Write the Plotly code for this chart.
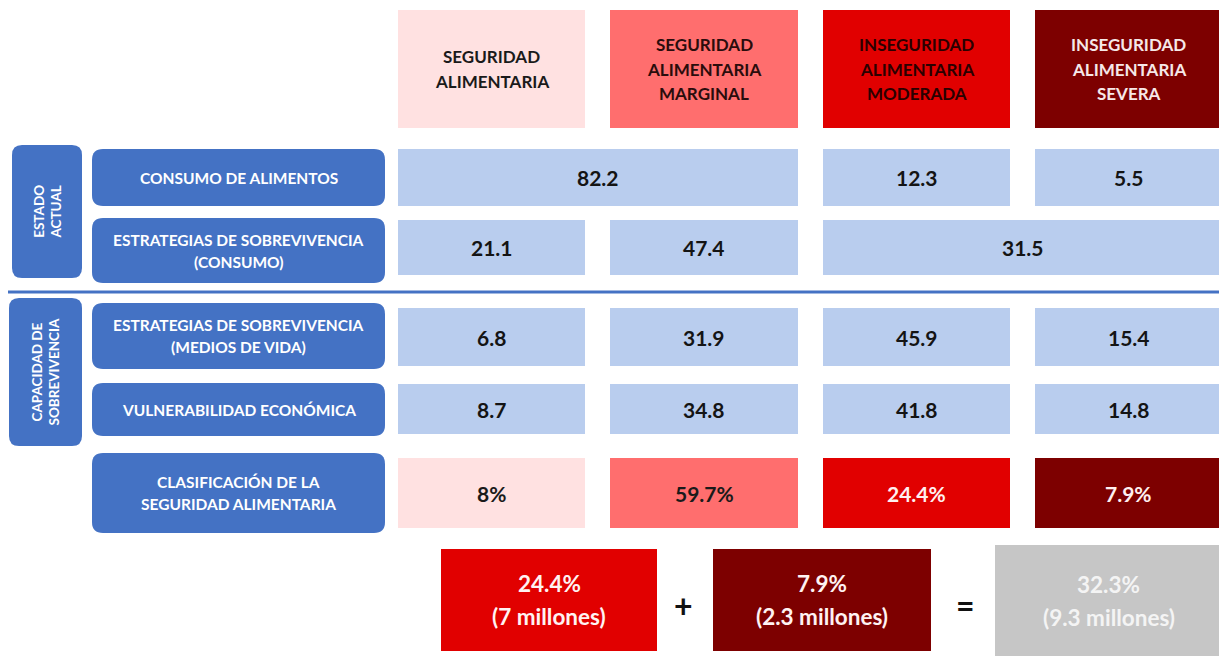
import plotly.graph_objects as go

# ---------------- data ----------------
categories = ["SEGURIDAD<br>ALIMENTARIA",
              "SEGURIDAD<br>ALIMENTARIA<br>MARGINAL",
              "INSEGURIDAD<br>ALIMENTARIA<br>MODERADA",
              "INSEGURIDAD<br>ALIMENTARIA<br>SEVERA"]
indicators = ["CONSUMO DE ALIMENTOS",
              "ESTRATEGIAS DE SOBREVIVENCIA<br>(CONSUMO)",
              "ESTRATEGIAS DE SOBREVIVENCIA<br>(MEDIOS DE VIDA)",
              "VULNERABILIDAD ECONÓMICA",
              "CLASIFICACIÓN DE LA<br>SEGURIDAD ALIMENTARIA"]
groups = ["ESTADO<br>ACTUAL", "CAPACIDAD DE<br>SOBREVIVENCIA"]

consumo_alimentos = [82.2, 12.3, 5.5]
consumo_spans = [2, 1, 1]
estrategias_consumo = [21.1, 47.4, 31.5]
estrategias_consumo_spans = [1, 1, 2]
estrategias_medios = [6.8, 31.9, 45.9, 15.4]
vulnerabilidad = [8.7, 34.8, 41.8, 14.8]
clasificacion = [8, 59.7, 24.4, 7.9]

resumen_pct = [24.4, 7.9, 32.3]
resumen_millones = ["7", "2.3", "9.3"]
resumen_ops = ["+", "="]

# ---------------- layout / style ----------------
W, H = 1219, 659
FONT = "Lato"
col_x0 = [398, 610, 823, 1035]
col_x1 = [585, 798, 1010, 1222]
header_y = (10, 128)
row_cells = [(149, 206), (220, 275), (308, 366), (384, 434), (458, 528)]
row_labels = [(149, 206), (218, 283), (303, 369), (383, 436), (453, 533)]
label_x = (92, 385)
group_boxes = [((12, 82), (145, 278)), ((9, 82), (298, 446))]
sep_y = 292
cat_fill = ["#FFE1E1", "#FF6E6E", "#E10000", "#7D0000"]
cat_text = ["#1a1a1a", "#2a0c0c", "#2a0000", "#F6E8E8"]
clas_text = ["#1a1a1a", "#1a1a1a", "#FFF0F0", "#FFF0F0"]
BLUE = "#4472C4"
LIGHT = "#B9CDEE"
GRAY = "#C6C6C6"
bottom_boxes = [(441, 657, 549, 651), (713, 931, 549, 651), (995, 1222, 545, 656)]
bottom_fill = [cat_fill[2], cat_fill[3], GRAY]
bottom_text = ["#FFF2F2", "#FFF2F2", "#F4F4F4"]
op_x = [683, 965]

fig = go.Figure()
shapes = []
annotations = []


def rrect(x0, y0, x1, y1, r):
    return (f"M {x0+r},{y0} L {x1-r},{y0} Q {x1},{y0} {x1},{y0+r} "
            f"L {x1},{y1-r} Q {x1},{y1} {x1-r},{y1} L {x0+r},{y1} "
            f"Q {x0},{y1} {x0},{y1-r} L {x0},{y0+r} Q {x0},{y0} {x0+r},{y0} Z")


def rect(x0, y0, x1, y1, color):
    shapes.append(dict(type="rect", xref="x", yref="y", x0=x0, x1=x1, y0=y0, y1=y1,
                       fillcolor=color, line=dict(width=0), layer="below"))


def text(x, y, s, size, color, spacing=None, angle=0):
    lines = s.split("<br>")
    if spacing is None or len(lines) == 1 or angle != 0:
        annotations.append(dict(x=x, y=y, xref="x", yref="y", text=s, showarrow=False,
                                textangle=angle, xanchor="center", yanchor="middle",
                                font=dict(family=FONT, size=size, color=color, weight=700)))
        return
    n = len(lines)
    for i, ln in enumerate(lines):
        yy = y + (i - (n - 1) / 2) * spacing
        annotations.append(dict(x=x, y=yy, xref="x", yref="y", text=ln, showarrow=False,
                                xanchor="center", yanchor="middle",
                                font=dict(family=FONT, size=size, color=color, weight=700)))


# header
for i, c in enumerate(categories):
    rect(col_x0[i], header_y[0], col_x1[i], header_y[1], cat_fill[i])
    text((col_x0[i] + col_x1[i]) / 2, (header_y[0] + header_y[1]) / 2, c, 17, cat_text[i], spacing=24.5)

# group boxes
for (gx, gy), g in zip(group_boxes, groups):
    shapes.append(dict(type="path", path=rrect(gx[0], gy[0], gx[1], gy[1], 10),
                       fillcolor=BLUE, line=dict(width=0), layer="below"))
    text((gx[0] + gx[1]) / 2, (gy[0] + gy[1]) / 2, g, 13.5, "white", angle=-90)

# separator
shapes.append(dict(type="line", xref="x", yref="y", x0=8, x1=W, y0=sep_y, y1=sep_y,
                   line=dict(color=BLUE, width=3)))

# indicator labels
for (y0, y1), lab in zip(row_labels, indicators):
    shapes.append(dict(type="path", path=rrect(label_x[0], y0, label_x[1], y1, 11),
                       fillcolor=BLUE, line=dict(width=0), layer="below"))
    text((label_x[0] + label_x[1]) / 2, (y0 + y1) / 2, lab, 15.5, "white", spacing=22)


def value_row(ri, values, spans, fills, tcolors, fmt):
    y0, y1 = row_cells[ri]
    c = 0
    for k, (v, s) in enumerate(zip(values, spans)):
        x0, x1 = col_x0[c], col_x1[c + s - 1]
        rect(x0, y0, x1, y1, fills[k] if isinstance(fills, list) else fills)
        text((x0 + x1) / 2, (y0 + y1) / 2, fmt(v), 21,
             tcolors[k] if isinstance(tcolors, list) else tcolors)
        c += s


value_row(0, consumo_alimentos, consumo_spans, LIGHT, "#141414", lambda v: f"{v}")
value_row(1, estrategias_consumo, estrategias_consumo_spans, LIGHT, "#141414", lambda v: f"{v}")
value_row(2, estrategias_medios, [1, 1, 1, 1], LIGHT, "#141414", lambda v: f"{v}")
value_row(3, vulnerabilidad, [1, 1, 1, 1], LIGHT, "#141414", lambda v: f"{v}")
value_row(4, clasificacion, [1, 1, 1, 1], cat_fill, clas_text, lambda v: f"{v}%")

# bottom summary
for i, (p, m) in enumerate(zip(resumen_pct, resumen_millones)):
    x0, x1, y0, y1 = bottom_boxes[i]
    rect(x0, y0, x1, y1, bottom_fill[i])
    text((x0 + x1) / 2, (y0 + y1) / 2, f"{p}%<br>({m} millones)", 22.5, bottom_text[i], spacing=33)
for x, op in zip(op_x, resumen_ops):
    text(x, 605, op, 32, "#111111")

fig.update_layout(
    width=W, height=H, margin=dict(l=0, r=0, t=0, b=0),
    paper_bgcolor="white", plot_bgcolor="white",
    xaxis=dict(range=[0, W], visible=False, fixedrange=True),
    yaxis=dict(range=[H, 0], visible=False, fixedrange=True),
    shapes=shapes, annotations=annotations, showlegend=False,
)
fig.write_html("out.html", config={"displayModeBar": False},
               post_script="document.body.style.margin='0';document.body.style.overflow='hidden';")
